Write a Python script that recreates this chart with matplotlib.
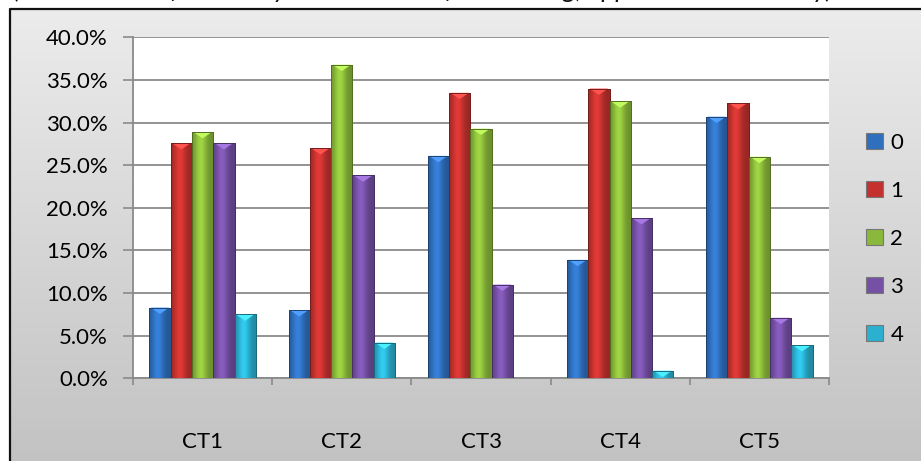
import numpy as np
import matplotlib.pyplot as plt
import matplotlib.ticker as ticker
from matplotlib.colors import to_rgb
from matplotlib.patches import Polygon, Patch

plt.rcParams['font.family'] = ['Lato', 'DejaVu Sans']

categories = ['CT1', 'CT2', 'CT3', 'CT4', 'CT5']
series_names = ['0', '1', '2', '3', '4']
score_0 = [8.3, 8.0, 26.1, 13.9, 30.7]
score_1 = [27.6, 27.0, 33.5, 34.0, 32.3]
score_2 = [28.9, 36.8, 29.3, 32.5, 26.0]
score_3 = [27.6, 23.8, 11.0, 18.8, 7.1]
score_4 = [7.5, 4.2, 0.0, 0.9, 3.9]
series = [score_0, score_1, score_2, score_3, score_4]
colors = ['#2f6fbd', '#c3322f', '#8ab83a', '#7550a5', '#2bb0d0']

W, H = 921, 461
fig = plt.figure(figsize=(W / 100, H / 100), dpi=100)

# chart area: grey vertical gradient with a dark frame
bg = fig.add_axes([0, 0, 1, 1])
bg.axis('off')
g = np.linspace(0.925, 0.76, 200)[:, None, None] * np.ones((200, 2, 3))
bg.imshow(g, extent=(10, W + 5, H + 5, 9), aspect='auto', zorder=0)
bg.plot([10, 10, W + 5], [H + 5, 9, 9], color='#111111', lw=1.6, zorder=1)
bg.set_xlim(0, W)
bg.set_ylim(H, 0)
# title sits above the top edge, only its lower part shows
bg.text(13, -1.5, '(Distribution of scores by content test after training, applicable scores only)',
        fontsize=19, style='italic', va='baseline', ha='left', color='#111111')

# plot area
x0, x1, y0, y1 = 133, 829, 37.4, 378.3
ax = fig.add_axes([x0 / W, 1 - y1 / H, (x1 - x0) / W, (y1 - y0) / H])
ax.set_facecolor('white')

centers = np.arange(len(categories)) + 0.5
width = 0.153
prof = np.linspace(0, 1, 60)
shade = 0.78 + 0.38 * np.exp(-((prof - 0.4) / 0.28) ** 2)

for i, (vals, col) in enumerate(zip(series, colors)):
    base = np.array(to_rgb(col))
    dark = base * 0.6
    bars = ax.bar(centers + (i - 2) * width, vals, width, color=col,
                  edgecolor=dark, linewidth=0.7, zorder=3)
    img = np.clip(shade[None, :, None] * base[None, None, :], 0, 1)
    light = np.clip(base * 1.25 + 0.08, 0, 1)
    for b, v in zip(bars, vals):
        if v <= 0:
            continue
        bx = b.get_x()
        im = ax.imshow(img, extent=(bx, bx + width, 0, v), aspect='auto', zorder=3.1)
        im.set_clip_path(b)
        tri_h = min(0.75, v)
        ax.add_patch(Polygon([(bx + 0.01, v), (bx + width - 0.01, v),
                              (bx + width / 2, v - tri_h)],
                             closed=True, facecolor=light, edgecolor='none', zorder=3.2))
        ax.add_patch(plt.Rectangle((bx, 0), width, v, facecolor='none',
                                   edgecolor=dark, linewidth=0.7, zorder=3.3))

ax.set_xlim(0, len(categories))
ax.set_ylim(0, 40)
ax.set_axisbelow(True)
ax.yaxis.set_major_locator(ticker.MultipleLocator(5))
ax.yaxis.set_major_formatter(ticker.FuncFormatter(lambda v, p: f'{v:.1f}%'))
ax.yaxis.grid(True, color='#8a8a8a', lw=1.3)

ax.set_xticks(np.arange(len(categories) + 1))
ax.set_xticklabels([])
ax.set_xticks(centers, minor=True)
ax.set_xticklabels(categories, minor=True)
ax.tick_params(axis='x', which='major', length=5, color='#8a8a8a', width=1.2)
ax.tick_params(axis='x', which='minor', length=0, pad=39, labelsize=16)
ax.tick_params(axis='y', length=7, color='#8a8a8a', width=1.2, pad=11, labelsize=16)

for s in ['top', 'right']:
    ax.spines[s].set_visible(False)
for s in ['left', 'bottom']:
    ax.spines[s].set_color('#8a8a8a')
    ax.spines[s].set_linewidth(1.3)

handles = [Patch(facecolor=c, edgecolor='#777777', lw=0.8) for c in colors]
fig.legend(handles, series_names, loc='upper left', bbox_to_anchor=(866 / W, 1 - 133 / H),
           frameon=False, fontsize=16, handlelength=0.75, handleheight=0.75,
           handletextpad=0.35, labelspacing=1.26, borderaxespad=0, borderpad=0)

fig.savefig('out.png', dpi=100)
